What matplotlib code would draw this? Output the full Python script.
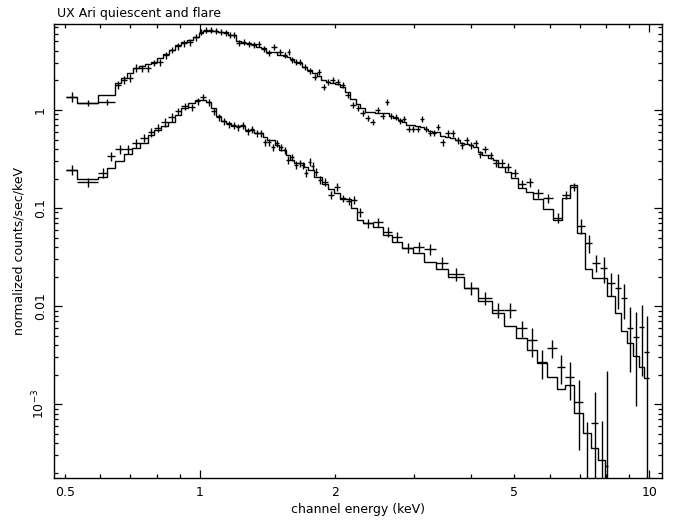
import numpy as np
import matplotlib
matplotlib.use("Agg")
import matplotlib.pyplot as plt
from matplotlib.ticker import FixedLocator, FixedFormatter

# flare spectrum (upper): channel bin edges (keV), data, relative errors, model
flare_edges = [0.503, 0.532, 0.593, 0.647, 0.667, 0.688, 0.709, 0.731, 0.754, 0.778,
               0.802, 0.827, 0.853, 0.880, 0.907, 0.935, 0.965, 0.995, 1.015, 1.042,
               1.069, 1.097, 1.125, 1.154, 1.178, 1.203, 1.234, 1.266, 1.299, 1.332,
               1.367, 1.403, 1.439, 1.484, 1.531, 1.562, 1.587, 1.620, 1.644, 1.687,
               1.731, 1.776, 1.822, 1.860, 1.908, 1.948, 1.998, 2.050, 2.103, 2.158,
               2.226, 2.272, 2.331, 2.391, 2.454, 2.517, 2.583, 2.636, 2.691, 2.761,
               2.818, 2.876, 2.951, 3.012, 3.090, 3.154, 3.219, 3.286, 3.354, 3.423,
               3.513, 3.604, 3.698, 3.794, 3.873, 3.973, 4.055, 4.160, 4.247, 4.379,
               4.493, 4.610, 4.778, 4.928, 5.108, 5.322, 5.516, 5.806, 6.111, 6.400,
               6.669, 6.913, 7.203, 7.467, 7.780, 8.065, 8.403, 8.663, 8.933, 9.213,
               9.500, 9.747, 10.0]
flare_rate = [1.36, 1.18, 1.21, 1.80, 2.02, 2.12, 2.68, 2.68, 2.68, 3.02,
              3.09, 3.64, 4.10, 4.50, 4.83, 4.94, 5.56, 6.25, 6.55, 6.55,
              6.40, 6.25, 6.11, 5.83, 5.83, 4.83, 4.94, 4.72, 4.61, 4.72,
              4.19, 3.82, 4.39, 3.91, 3.64, 3.91, 3.24, 3.09, 3.09, 2.75,
              2.50, 2.17, 2.44, 1.72, 1.93, 2.02, 1.93, 1.80, 1.42, 1.125,
              1.048, 0.932, 0.829, 0.754, 1.0, 0.869, 1.207, 0.869, 0.848, 0.772,
              0.809, 0.640, 0.640, 0.640, 0.809, 0.640, 0.582, 0.582, 0.671, 0.471,
              0.582, 0.582, 0.494, 0.439, 0.494, 0.439, 0.460, 0.356, 0.400, 0.347,
              0.288, 0.288, 0.262, 0.228, 0.176, 0.184, 0.142, 0.126, 0.0791, 0.136,
              0.164, 0.0655, 0.0439, 0.0275, 0.0244, 0.0172, 0.0153, 0.0121, 0.00596, 0.00483,
              0.00611, 0.00339]
flare_relerr = [0.12, 0.07, 0.07, 0.09, 0.09, 0.09, 0.09, 0.08, 0.08, 0.08,
                0.08, 0.08, 0.08, 0.08, 0.08, 0.08, 0.08, 0.07, 0.07, 0.07,
                0.07, 0.07, 0.07, 0.07, 0.07, 0.07, 0.07, 0.07, 0.07, 0.07,
                0.07, 0.07, 0.07, 0.07, 0.07, 0.07, 0.07, 0.07, 0.07, 0.07,
                0.07, 0.07, 0.07, 0.07, 0.07, 0.07, 0.07, 0.07, 0.07, 0.07,
                0.07, 0.07, 0.07, 0.07, 0.07, 0.07, 0.07, 0.07, 0.07, 0.07,
                0.07, 0.07, 0.07, 0.07, 0.07, 0.07, 0.07, 0.07, 0.07, 0.08,
                0.08, 0.08, 0.08, 0.08, 0.08, 0.08, 0.08, 0.08, 0.08, 0.08,
                0.08, 0.09, 0.09, 0.09, 0.10, 0.10, 0.10, 0.10, 0.12, 0.10,
                0.10, 0.18, 0.20, 0.20, 0.29, 0.27, 0.39, 0.39, 0.64, 0.80,
                0.68, 1.33]
flare_model = [1.36, 1.165, 1.42, 1.89, 2.12, 2.39, 2.68, 2.81, 2.95, 3.09,
               3.39, 3.73, 4.10, 4.61, 4.94, 5.18, 5.56, 6.11, 6.40, 6.40,
               6.40, 6.25, 6.25, 5.83, 5.83, 5.06, 4.83, 4.83, 4.72, 4.39,
               4.29, 3.91, 3.91, 3.64, 3.56, 3.47, 3.31, 3.09, 3.02, 2.75,
               2.56, 2.39, 2.22, 2.02, 1.93, 1.89, 1.84, 1.72, 1.53, 1.295,
               1.151, 1.048, 0.954, 0.954, 0.932, 0.932, 0.932, 0.869, 0.829, 0.791,
               0.754, 0.703, 0.703, 0.687, 0.671, 0.640, 0.610, 0.596, 0.596, 0.543,
               0.530, 0.518, 0.494, 0.460, 0.450, 0.439, 0.419, 0.373, 0.347, 0.324,
               0.309, 0.262, 0.233, 0.202, 0.160, 0.146, 0.124, 0.0977, 0.0754, 0.126,
               0.172, 0.0556, 0.0238, 0.0193, 0.0193, 0.0126, 0.0085, 0.00556, 0.00419, 0.00309,
               0.00238, 0.00184]

# quiescent spectrum (lower)
quiet_edges = [0.503, 0.532, 0.593, 0.621, 0.647, 0.677, 0.706, 0.735, 0.766, 0.790,
               0.819, 0.849, 0.880, 0.907, 0.940, 0.975, 1.000, 1.031, 1.058, 1.086,
               1.114, 1.143, 1.172, 1.203, 1.228, 1.259, 1.292, 1.319, 1.353, 1.381,
               1.410, 1.439, 1.469, 1.499, 1.531, 1.554, 1.587, 1.620, 1.653, 1.679,
               1.705, 1.740, 1.767, 1.794, 1.832, 1.869, 1.928, 1.988, 2.050, 2.114,
               2.170, 2.237, 2.307, 2.429, 2.556, 2.677, 2.818, 2.981, 3.154, 3.354,
               3.567, 3.873, 4.160, 4.470, 4.754, 5.055, 5.349, 5.630, 5.927, 6.238,
               6.500, 6.808, 7.129, 7.428, 7.700, 7.981, 8.103]
quiet_rate = [0.244, 0.184, 0.228, 0.339, 0.400, 0.400, 0.460, 0.518, 0.596, 0.655,
              0.754, 0.848, 0.977, 1.099, 1.073, 1.235, 1.36, 1.207, 0.977, 0.848,
              0.772, 0.720, 0.703, 0.671, 0.703, 0.610, 0.640, 0.582, 0.582, 0.471,
              0.471, 0.419, 0.460, 0.419, 0.391, 0.309, 0.331, 0.275, 0.288, 0.275,
              0.228, 0.295, 0.268, 0.233, 0.193, 0.184, 0.136, 0.164, 0.126, 0.118,
              0.121, 0.0910, 0.0703, 0.0720, 0.0569, 0.0506, 0.0391, 0.0400, 0.0382, 0.0275,
              0.0212, 0.0153, 0.0121, 0.0091, 0.0091, 0.00596, 0.00450, 0.00268, 0.00373, 0.00238,
              0.00189, 0.00105, 0.00012, 0.00064, 0.00010, 0.000233]
quiet_relerr = [0.12, 0.10, 0.12, 0.11, 0.11, 0.11, 0.10, 0.10, 0.10, 0.10,
                0.10, 0.10, 0.08, 0.08, 0.08, 0.08, 0.08, 0.08, 0.08, 0.08,
                0.08, 0.08, 0.08, 0.08, 0.08, 0.08, 0.08, 0.08, 0.08, 0.08,
                0.08, 0.08, 0.08, 0.08, 0.08, 0.09, 0.08, 0.09, 0.08, 0.08,
                0.09, 0.09, 0.09, 0.09, 0.09, 0.09, 0.10, 0.10, 0.09, 0.09,
                0.09, 0.11, 0.11, 0.11, 0.12, 0.12, 0.12, 0.12, 0.13, 0.14,
                0.15, 0.15, 0.16, 0.17, 0.18, 0.19, 0.33, 0.33, 0.21, 0.33,
                0.42, 0.68, 4.5, 1.06, 5.7, 8.3]
quiet_model = [0.244, 0.198, 0.207, 0.256, 0.302, 0.356, 0.410, 0.460, 0.556, 0.625,
               0.687, 0.754, 0.889, 1.048, 1.179, 1.265, 1.265, 1.207, 1.048, 0.869,
               0.772, 0.737, 0.687, 0.687, 0.687, 0.625, 0.625, 0.582, 0.582, 0.530,
               0.494, 0.494, 0.439, 0.391, 0.391, 0.347, 0.309, 0.288, 0.288, 0.288,
               0.262, 0.244, 0.244, 0.207, 0.207, 0.176, 0.156, 0.142, 0.124, 0.124,
               0.100, 0.0754, 0.0703, 0.0640, 0.0530, 0.0450, 0.0391, 0.0347, 0.0281, 0.0238,
               0.0198, 0.0153, 0.0112, 0.0085, 0.00625, 0.00471, 0.00356, 0.00262, 0.00189, 0.00142,
               0.00156, 0.00081, 0.00051, 0.00036, 0.00027, 0.00001]

title = "UX Ari quiescent and flare"
xlab = "channel energy (keV)"
ylab = "normalized counts/sec/keV"

plt.rcParams['font.family'] = ['DejaVu Sans']
plt.rcParams['mathtext.fontset'] = 'dejavusans'

fig = plt.figure(figsize=(6.76, 5.28), dpi=100)
ax = fig.add_axes([54 / 676, 1 - 478 / 528, 608 / 676, 454 / 528])
ax.set_xscale('log')
ax.set_yscale('log')


def draw_spectrum(edges, rate, relerr, model):
    edges = np.array(edges)
    rate = np.array(rate)
    err = rate * np.array(relerr)
    lo, hi = edges[:-1], edges[1:]
    xc = 0.5 * (lo + hi)
    ylo = rate - np.maximum(rate - err, 1e-7)
    ax.errorbar(xc, rate, xerr=[xc - lo, hi - xc], yerr=[ylo, err],
                fmt='none', ecolor='black', elinewidth=1.0, capsize=0)
    ax.stairs(model, edges, baseline=None, color='black', linewidth=1.0)


draw_spectrum(flare_edges, flare_rate, flare_relerr, flare_model)
draw_spectrum(quiet_edges, quiet_rate, quiet_relerr, quiet_model)

ax.set_xlim(0.473, 10.67)
ax.set_ylim(1.76e-4, 7.54)

# x ticks: long ones at the decades, labels at 0.5 1 2 5 10
ax.xaxis.set_major_locator(FixedLocator([1, 10]))
ax.xaxis.set_major_formatter(FixedFormatter(['1', '10']))
xminor = [0.5, 0.6, 0.7, 0.8, 0.9, 2, 3, 4, 5, 6, 7, 8, 9]
ax.xaxis.set_minor_locator(FixedLocator(xminor))
ax.xaxis.set_minor_formatter(FixedFormatter(
    ['0.5' if v == 0.5 else '2' if v == 2 else '5' if v == 5 else '' for v in xminor]))

ax.yaxis.set_major_locator(FixedLocator([1e-3, 1e-2, 0.1, 1]))
ax.yaxis.set_major_formatter(FixedFormatter([r'$10^{-3}$', '0.01', '0.1', '1']))
yminor = [m * 10.0 ** e for e in range(-4, 1) for m in range(2, 10)]
ax.yaxis.set_minor_locator(FixedLocator(yminor))

ax.tick_params(which='both', direction='in', top=True, right=True,
               width=0.9, colors='black', labelsize=9)
ax.tick_params(which='major', length=5.5)
ax.tick_params(which='minor', length=3)
ax.tick_params(axis='x', which='both', pad=6)
ax.tick_params(axis='y', which='major', pad=5, labelrotation=90)
for lab in ax.get_yticklabels():
    lab.set_va('center')

for s in ax.spines.values():
    s.set_linewidth(1.0)

ax.set_xlabel(xlab, fontsize=9)
ax.xaxis.set_label_coords(0.5, -(510 - 478) / 454)
ax.xaxis.label.set_va('center')
ax.set_ylabel(ylab, fontsize=9)
ax.yaxis.set_label_coords((26 - 54) / 608, 0.5)

fig.text(57 / 676, 1 - 17 / 528, title, fontsize=9, ha='left', va='baseline')

fig.savefig('out.png', dpi=100)
